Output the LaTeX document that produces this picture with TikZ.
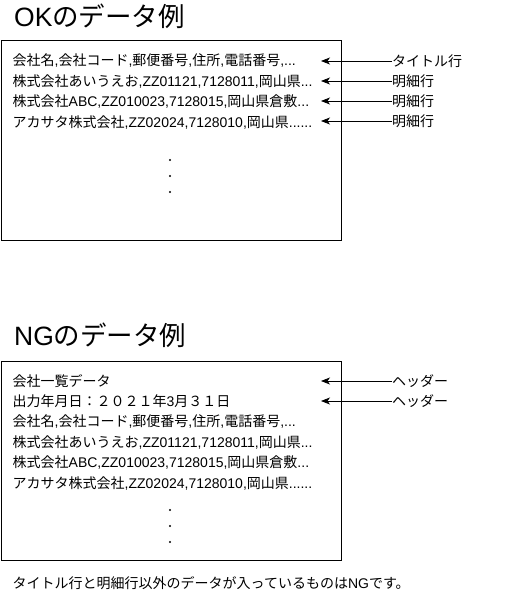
\documentclass[tikz,border=0pt]{standalone}
\usepackage{fontspec}
\setmainfont{Liberation Sans}
\newfontfamily\cjkfont{Noto Sans CJK JP}
\usetikzlibrary{positioning,arrows.meta}

% Japanese runs in the CJK font, Latin runs in Liberation Sans
\newXeTeXintercharclass\jpclass
\newcount\jpcode
\def\setjprange#1#2{%
  \jpcode=#1
  \loop
    \XeTeXcharclass\jpcode=\jpclass
    \advance\jpcode by 1
  \ifnum\jpcode<#2 \repeat}
\setjprange{"3000}{"3100}
\setjprange{"4E00}{"A000}
\setjprange{"FF00}{"FFF0}
\XeTeXinterchartoks 0 \jpclass = {\cjkfont}
\XeTeXinterchartoks 4095 \jpclass = {\cjkfont}
\XeTeXinterchartoks \jpclass 0 = {\rmfamily}
\XeTeXinterchartokenstate=1

\begin{document}
\begin{tikzpicture}[
    x=1pt, y=-1pt,
    >={Stealth[length=9pt,width=7pt,inset=2.5pt]},
    title/.style={
        font=\fontsize{26.5}{30}\selectfont,
        inner sep=0pt,
        anchor=west
    },
    databox/.style={
        draw=black,
        line width=0.9pt,
        anchor=north west,
        minimum width=340pt,
        minimum height=199pt,
        inner sep=0pt
    },
    datarow/.style={
        font=\fontsize{14}{16}\selectfont,
        inner sep=0pt,
        text height=15pt,
        text depth=5pt,
        anchor=west
    },
    rowlabel/.style={
        font=\fontsize{14}{16}\selectfont,
        inner sep=0pt,
        anchor=west
    },
    vdot/.style={
        circle,
        fill=black,
        inner sep=0pt,
        minimum size=2.2pt
    },
    pointer/.style={
        ->,
        line width=0.8pt
    }
]
\useasboundingbox (0,0) rectangle (511,591);

% OK example
\node[title] (oktitle) at (14,16) {OKのデータ例};
\node[databox] (okbox) at (0.5,40.5) {};

\node[datarow] (okrow1) at (12.5,61) {会社名,会社コード,郵便番号,住所,電話番号,...};
\node[datarow, below=0pt of okrow1.south west, anchor=north west] (okrow2) {株式会社あいうえお,ZZ01121,7128011,岡山県...};
\node[datarow, below=0pt of okrow2.south west, anchor=north west] (okrow3) {株式会社ABC,ZZ010023,7128015,岡山県倉敷...};
\node[datarow, below=0pt of okrow3.south west, anchor=north west] (okrow4) {アカサタ株式会社,ZZ02024,7128010,岡山県......};

\node[vdot] (okdot1) at (170,160) {};
\node[vdot] (okdot2) at (170,176) {};
\node[vdot] (okdot3) at (170,192) {};

\coordinate (oktip1) at (321,61);
\coordinate (oktip2) at (321,81);
\coordinate (oktip3) at (321,101);
\coordinate (oktip4) at (321,121);

\node[rowlabel] (oklabel1) at (392,61) {タイトル行};
\node[rowlabel] (oklabel2) at (392,81) {明細行};
\node[rowlabel] (oklabel3) at (392,101) {明細行};
\node[rowlabel] (oklabel4) at (392,121) {明細行};

\draw[pointer] (oklabel1.west) -- (oktip1);
\draw[pointer] (oklabel2.west) -- (oktip2);
\draw[pointer] (oklabel3.west) -- (oktip3);
\draw[pointer] (oklabel4.west) -- (oktip4);

% NG example
\node[title] (ngtitle) at (14,335) {NGのデータ例};
\node[databox] (ngbox) at (0.5,360.5) {};

\node[datarow] (ngrow1) at (12.5,381) {会社一覧データ};
\node[datarow, below=0pt of ngrow1.south west, anchor=north west] (ngrow2) {出力年月日：２０２１年3月３１日};
\node[datarow, below=0pt of ngrow2.south west, anchor=north west] (ngrow3) {会社名,会社コード,郵便番号,住所,電話番号,...};
\node[datarow, below=0pt of ngrow3.south west, anchor=north west] (ngrow4) {株式会社あいうえお,ZZ01121,7128011,岡山県...};
\node[datarow, below=0pt of ngrow4.south west, anchor=north west] (ngrow5) {株式会社ABC,ZZ010023,7128015,岡山県倉敷...};
\node[datarow, below=0pt of ngrow5.south west, anchor=north west] (ngrow6) {アカサタ株式会社,ZZ02024,7128010,岡山県......};

\node[vdot] (ngdot1) at (170,510) {};
\node[vdot] (ngdot2) at (170,526) {};
\node[vdot] (ngdot3) at (170,542) {};

\coordinate (ngtip1) at (321,381);
\coordinate (ngtip2) at (321,401);

\node[rowlabel] (nglabel1) at (392,381) {ヘッダー};
\node[rowlabel] (nglabel2) at (392,401) {ヘッダー};

\draw[pointer] (nglabel1.west) -- (ngtip1);
\draw[pointer] (nglabel2.west) -- (ngtip2);

\node[rowlabel] (ngnote) at (12.5,583) {タイトル行と明細行以外のデータが入っているものはNGです。};

\end{tikzpicture}
\end{document}
